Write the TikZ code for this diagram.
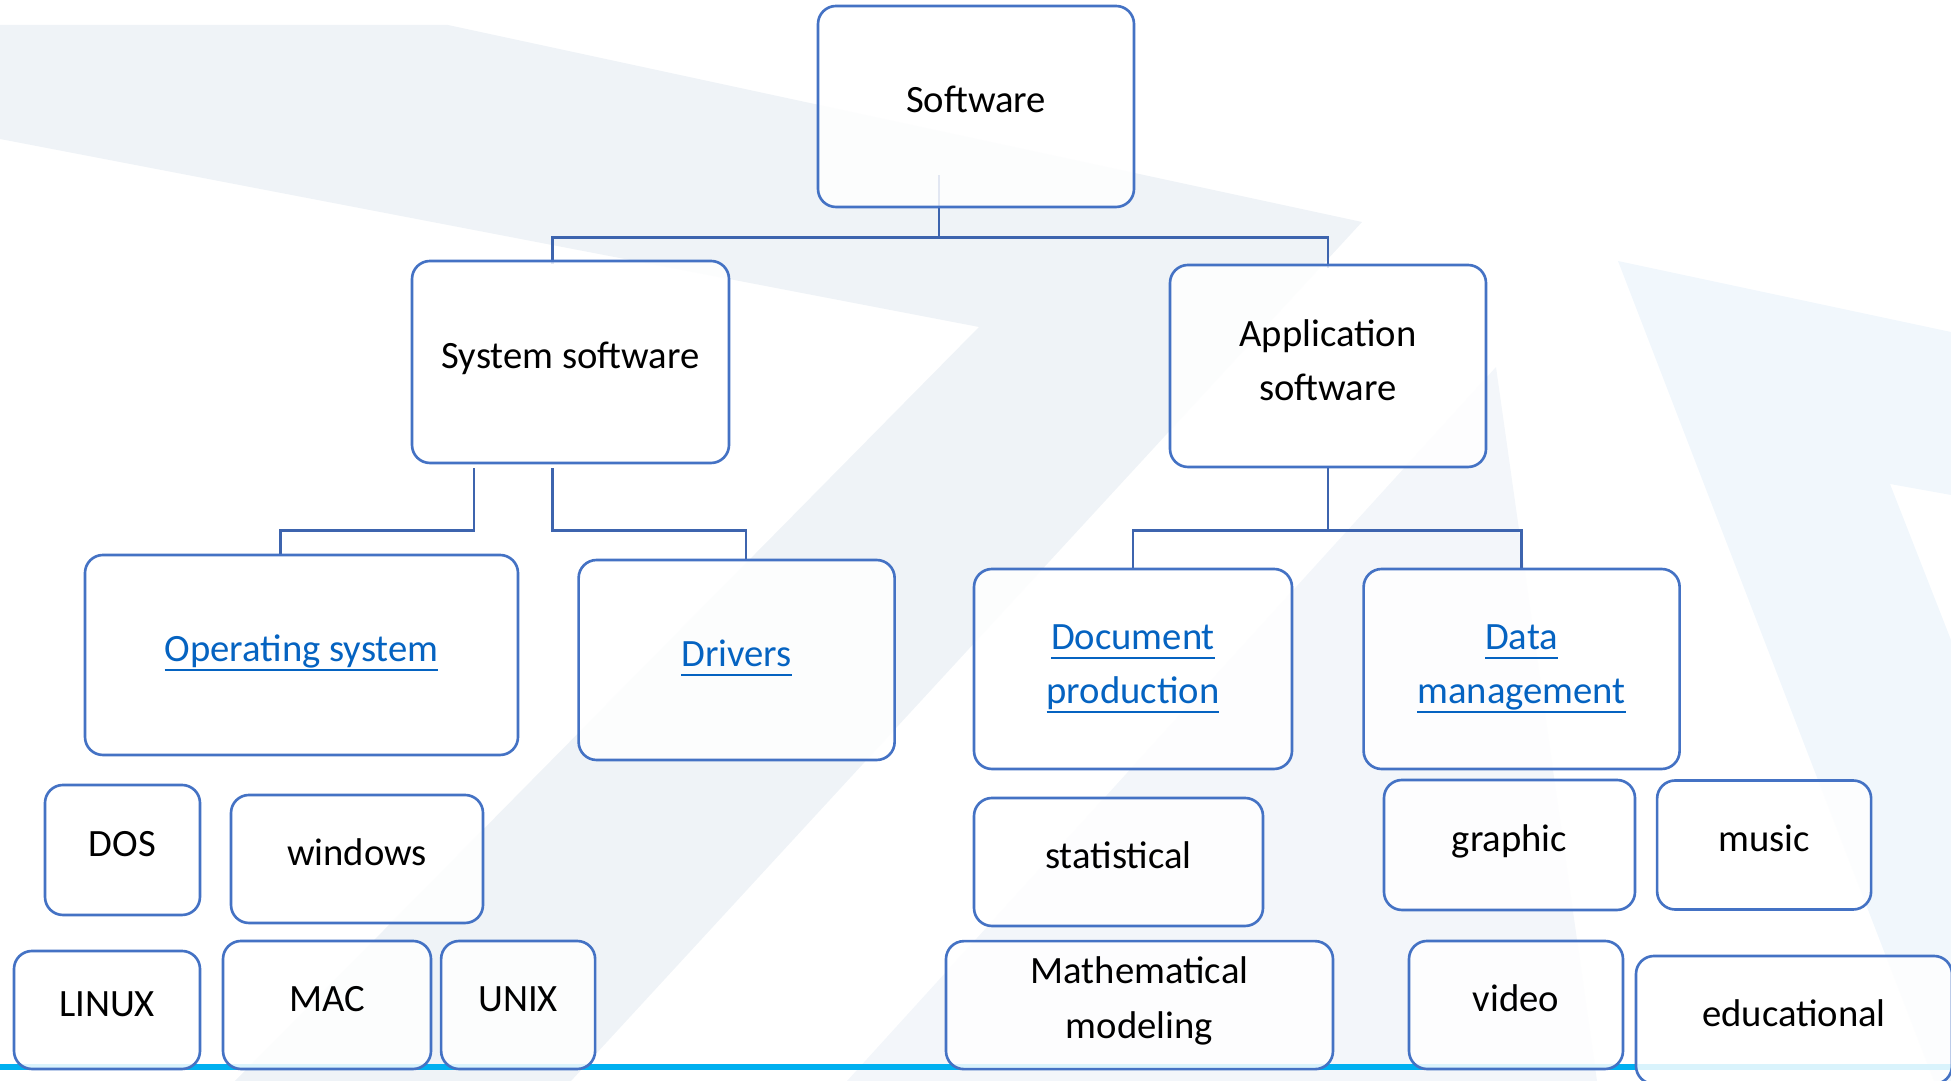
\documentclass[tikz,border=0pt]{standalone}
\usepackage{fontspec}
\setmainfont{Carlito}
\usetikzlibrary{positioning}

\definecolor{boxblue}{HTML}{4472C4}
\definecolor{connblue}{HTML}{3D64AE}
\definecolor{linkblue}{HTML}{0563C1}
\definecolor{bggray}{HTML}{EFF3F7}
\definecolor{bglight}{HTML}{F3F6FA}
\definecolor{bgblue}{HTML}{F1F7FC}
\definecolor{cyanline}{HTML}{00B0F0}

\pgfdeclarelayer{back}
\pgfsetlayers{back,main}

% underlined hyperlink text, line at a fixed depth
\newcommand\lnk[1]{\setbox0\hbox{#1}\rlap{\rule[-0.97mm]{\wd0}{0.22mm}}\box0}

\begin{document}
\begin{tikzpicture}[
    x=1mm, y=1mm,
    font=\fontsize{11pt}{15.4pt}\selectfont,
    box/.style={
        rectangle, rounded corners=1.8mm, draw=boxblue, line width=0.75pt,
        fill=white, fill opacity=0.85, text opacity=1, inner sep=0pt, align=center
    },
    one/.style={text height=3.3mm, text depth=2mm},
    link/.style={box, text=linkblue},
    conn/.style={draw=connblue, line width=0.7pt}
]
    \useasboundingbox (0,0) rectangle (195.1,-108.1);

    \node (sof) [box, one, minimum width=31.6mm, minimum height=20.1mm] at (97.6,-10.65) {Software};

    \node (sys) [box, one, minimum width=31.7mm, minimum height=20.2mm] at (57.05,-36.2) {System software};
    \node (app) [box, minimum width=31.6mm, minimum height=20.2mm] at (132.8,-36.6) {Application\\software\rule[-1.2mm]{0pt}{0pt}};

    \node (ops) [link, one, minimum width=43.3mm, minimum height=20mm] at (30.15,-65.5) {\lnk{Operating system}};
    \node (drv) [link, one, minimum width=31.6mm, minimum height=20mm, right=5.8mm of ops, yshift=-0.5mm] {\lnk{Drivers}};
    \node (doc) [link, minimum width=31.8mm, minimum height=20mm] at (113.3,-66.9) {\lnk{Document}\\\lnk{production}};
    \node (dat) [link, minimum width=31.6mm, minimum height=20mm, right=6.9mm of doc] {\lnk{Data}\\\lnk{management}};

    \node (dos) [box, one, minimum width=15.5mm, minimum height=13mm] at (12.25,-85) {DOS};
    \node (win) [box, one, minimum width=25.2mm, minimum height=12.8mm] at (35.7,-85.9) {windows};
    \node (lin) [box, one, minimum width=18.6mm, minimum height=11.8mm] at (10.7,-101) {LINUX};
    \node (mac) [box, one, minimum width=20.8mm, minimum height=12.8mm] at (32.7,-100.5) {MAC};
    \node (uni) [box, one, minimum width=15.4mm, minimum height=12.8mm, right=0.75mm of mac] {UNIX};

    \node (sta) [box, one, minimum width=28.9mm, minimum height=12.8mm] at (111.85,-86.2) {statistical};
    \node (mat) [box, minimum width=38.7mm, minimum height=12.8mm, below=1.25mm of sta, xshift=2.1mm] {Mathematical\\modeling\rule[-1.5mm]{0pt}{0pt}};

    \node (gra) [box, one, minimum width=25.1mm, minimum height=13mm] at (150.95,-84.5) {graphic};
    \node (mus) [box, one, minimum width=21.4mm, minimum height=12.9mm, right=1.95mm of gra] {music};
    \node (vid) [box, one, minimum width=21.4mm, minimum height=12.8mm] at (151.6,-100.5) {video};
    \node (edu) [box, one, minimum width=31.6mm, minimum height=12.8mm] at (179.4,-102) {educational};

    \begin{pgfonlayer}{back}
        % background shapes
        \fill [bggray] (0,-2.5) -- (44.8,-2.5) -- (136.2,-22.2) -- (57.1,-108.1)
            -- (23.5,-108.1) -- (97.9,-32.7) -- (0,-13.9) -- cycle;
        \fill [bglight] (149.6,-36.7) -- (159.7,-108.1) -- (84.7,-108.1) -- cycle;
        \fill [bgblue] (161.8,-26.1) -- (195.1,-33.2) -- (195.1,-49.5) -- (189,-48.4)
            -- (195.1,-64) -- (195.1,-108.1) -- (193.4,-108.1) -- cycle;
        \draw [cyanline, line width=0.6mm] (0,-106.7) -- (195.1,-106.7);

        % connectors
        \coordinate (sofbar) at ([xshift=-3.7mm,yshift=-2.9mm]sof.south);
        \path [conn] ([xshift=-3.7mm,yshift=3.3mm]sof.south) -- (sofbar);
        \path [conn] ([xshift=-1.8mm,yshift=-0.4mm]sys.north) |- (sofbar) -| ([yshift=-0.4mm]app.north);

        \path [conn] ([xshift=-9.65mm,yshift=-0.4mm]sys.south) -- ++(0,-6.2) -| ([xshift=-2.1mm]ops.north);
        \path [conn] ([xshift=-1.8mm,yshift=-0.4mm]sys.south) -- ++(0,-6.2) -| ([xshift=0.95mm]drv.north);

        \coordinate (appbar) at ([yshift=-6.2mm]app.south);
        \path [conn] (app.south) -- (appbar);
        \path [conn] (doc.north) |- (appbar) -| (dat.north);
    \end{pgfonlayer}
\end{tikzpicture}
\end{document}
